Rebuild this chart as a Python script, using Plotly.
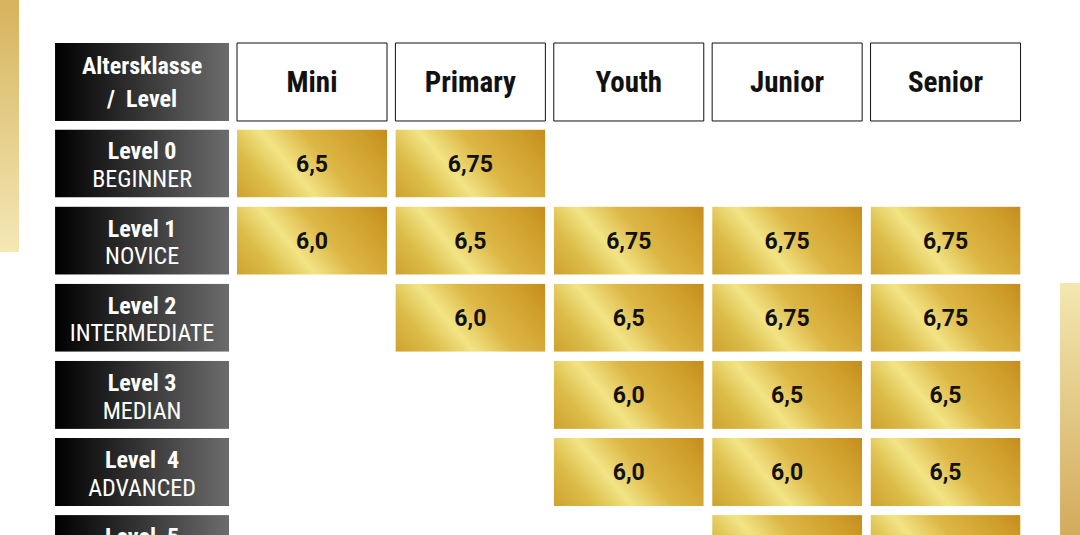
import base64
import plotly.graph_objects as go

# --- table content ---
age_classes = ["Mini", "Primary", "Youth", "Junior", "Senior"]
levels = ["Level 0", "Level 1", "Level 2", "Level 3", "Level  4", "Level  5"]
level_names = ["BEGINNER", "NOVICE", "INTERMEDIATE", "MEDIAN", "ADVANCED", ""]
corner_label = ["Altersklasse", "/  Level"]

# None = no cell, "" = cell present but its value is cut off at the bottom edge
values = [
    ["6,5", "6,75", None, None, None],
    ["6,0", "6,5", "6,75", "6,75", "6,75"],
    [None, "6,0", "6,5", "6,75", "6,75"],
    [None, None, "6,0", "6,5", "6,5"],
    [None, None, "6,0", "6,0", "6,5"],
    [None, None, None, "", ""],
]

# --- layout in table units: one column step = 1 on x, one row step = 1 on y ---
CELL_W = 0.947
CELL_H = 0.882
HEAD_X = -0.073
HEAD_W = 1.099
HEAD_ROW_Y = -1.057
HEAD_ROW_H = 1.011
X_RANGE = [-0.970, 5.849]
Y_RANGE = [4.817, -2.120]
TXT_DY = 0.035      # nudge text down a little to sit like the original
LINE1_DY = -0.165   # two-line labels in the dark cells
LINE2_DY = 0.195
CORNER_DY = 0.214

COND = "Roboto Condensed, Roboto, sans-serif"
NUM = "Roboto, sans-serif"


def svg_uri(svg):
    return "data:image/svg+xml;base64," + base64.b64encode(svg.encode()).decode()


gold_svg = svg_uri(
    '<svg xmlns="http://www.w3.org/2000/svg" width="150" height="68" viewBox="0 0 150 68" '
    'preserveAspectRatio="none"><defs><linearGradient id="g" gradientUnits="userSpaceOnUse" '
    'x1="0" y1="68" x2="122" y2="-34">'
    '<stop offset="0" stop-color="#cfa22e"/><stop offset="0.2" stop-color="#dcbd4a"/>'
    '<stop offset="0.38" stop-color="#f2e485"/><stop offset="0.58" stop-color="#ddb746"/>'
    '<stop offset="0.85" stop-color="#cf9e2b"/><stop offset="1" stop-color="#c58c1d"/>'
    '</linearGradient></defs><rect width="150" height="68" fill="url(#g)"/></svg>'
)
dark_svg = svg_uri(
    '<svg xmlns="http://www.w3.org/2000/svg" width="174" height="68" viewBox="0 0 174 68" '
    'preserveAspectRatio="none"><defs><linearGradient id="d" x1="0" y1="0" x2="1" y2="0">'
    '<stop offset="0" stop-color="#000000"/><stop offset="1" stop-color="#6c6c6c"/>'
    '</linearGradient></defs><rect width="174" height="68" fill="url(#d)"/></svg>'
)
bar_down_svg = svg_uri(
    '<svg xmlns="http://www.w3.org/2000/svg" width="20" height="250" viewBox="0 0 20 250" '
    'preserveAspectRatio="none"><defs><linearGradient id="b" x1="0" y1="0" x2="0" y2="1">'
    '<stop offset="0" stop-color="#d6b35c"/><stop offset="1" stop-color="#f4e8b6"/>'
    '</linearGradient></defs><rect width="20" height="250" fill="url(#b)"/></svg>'
)
bar_up_svg = svg_uri(
    '<svg xmlns="http://www.w3.org/2000/svg" width="20" height="250" viewBox="0 0 20 250" '
    'preserveAspectRatio="none"><defs><linearGradient id="b" x1="0" y1="0" x2="0" y2="1">'
    '<stop offset="0" stop-color="#f3e7b0"/><stop offset="1" stop-color="#d3ab5c"/>'
    '</linearGradient></defs><rect width="20" height="250" fill="url(#b)"/></svg>'
)

images = []
shapes = []


def add_image(src, x0, y0, w, h):
    images.append(dict(source=src, xref="x", yref="y", x=x0, y=y0, sizex=w, sizey=h,
                       xanchor="left", yanchor="top", sizing="stretch", layer="below"))


# decorative gold bars at the page edges
add_image(bar_down_svg, X_RANGE[0], Y_RANGE[1], 0.120, 3.268)
add_image(bar_up_svg, 5.723, 1.549, 0.126, 3.268)

# corner cell and row header cells
add_image(dark_svg, HEAD_X - HEAD_W / 2, HEAD_ROW_Y - HEAD_ROW_H / 2, HEAD_W, HEAD_ROW_H)
for r in range(len(levels)):
    add_image(dark_svg, HEAD_X - HEAD_W / 2, r - CELL_H / 2, HEAD_W, CELL_H)

# column header cells (white with thin black outline)
for c in range(len(age_classes)):
    shapes.append(dict(type="rect", xref="x", yref="y", layer="below",
                       x0=c + 1 - CELL_W / 2, x1=c + 1 + CELL_W / 2,
                       y0=HEAD_ROW_Y - HEAD_ROW_H / 2, y1=HEAD_ROW_Y + HEAD_ROW_H / 2,
                       fillcolor="white", line=dict(color="#111111", width=1)))

# gold value cells
val_x, val_y, val_t = [], [], []
for r, row in enumerate(values):
    for c, v in enumerate(row):
        if v is None:
            continue
        add_image(gold_svg, c + 1 - CELL_W / 2, r - CELL_H / 2, CELL_W, CELL_H)
        val_x.append(c + 1)
        val_y.append(r + TXT_DY)
        val_t.append(v)

fig = go.Figure()


def text_trace(x, y, text, family, size, color, weight="normal"):
    fig.add_trace(go.Scatter(
        x=x, y=y, text=text, mode="text", textposition="middle center",
        textfont=dict(family=family, size=size, color=color, weight=weight),
        hoverinfo="skip", showlegend=False))


text_trace(val_x, val_y, val_t, NUM, 23, "#111111", "bold")
text_trace([c + 1 for c in range(len(age_classes))], [HEAD_ROW_Y + TXT_DY] * len(age_classes),
           age_classes, COND, 29, "#111111", "bold")

rows = list(range(len(levels)))
text_trace([HEAD_X] * len(levels), [r + LINE1_DY + TXT_DY for r in rows], levels,
           COND, 24, "white", "bold")
text_trace([HEAD_X] * len(levels), [r + LINE2_DY + TXT_DY for r in rows], level_names,
           COND, 24, "white", 400)

text_trace([HEAD_X, HEAD_X],
           [HEAD_ROW_Y - CORNER_DY + TXT_DY, HEAD_ROW_Y + CORNER_DY + TXT_DY],
           corner_label, COND, 24, "white", "bold")

fig.update_layout(
    width=1080, height=535,
    margin=dict(l=0, r=0, t=0, b=0),
    paper_bgcolor="white", plot_bgcolor="white",
    images=images, shapes=shapes,
    xaxis=dict(range=X_RANGE, visible=False, fixedrange=True),
    yaxis=dict(range=Y_RANGE, visible=False, fixedrange=True),
)

fig.write_html("out.html", config={"displayModeBar": False},
               post_script="document.body.style.margin = '0px';")
